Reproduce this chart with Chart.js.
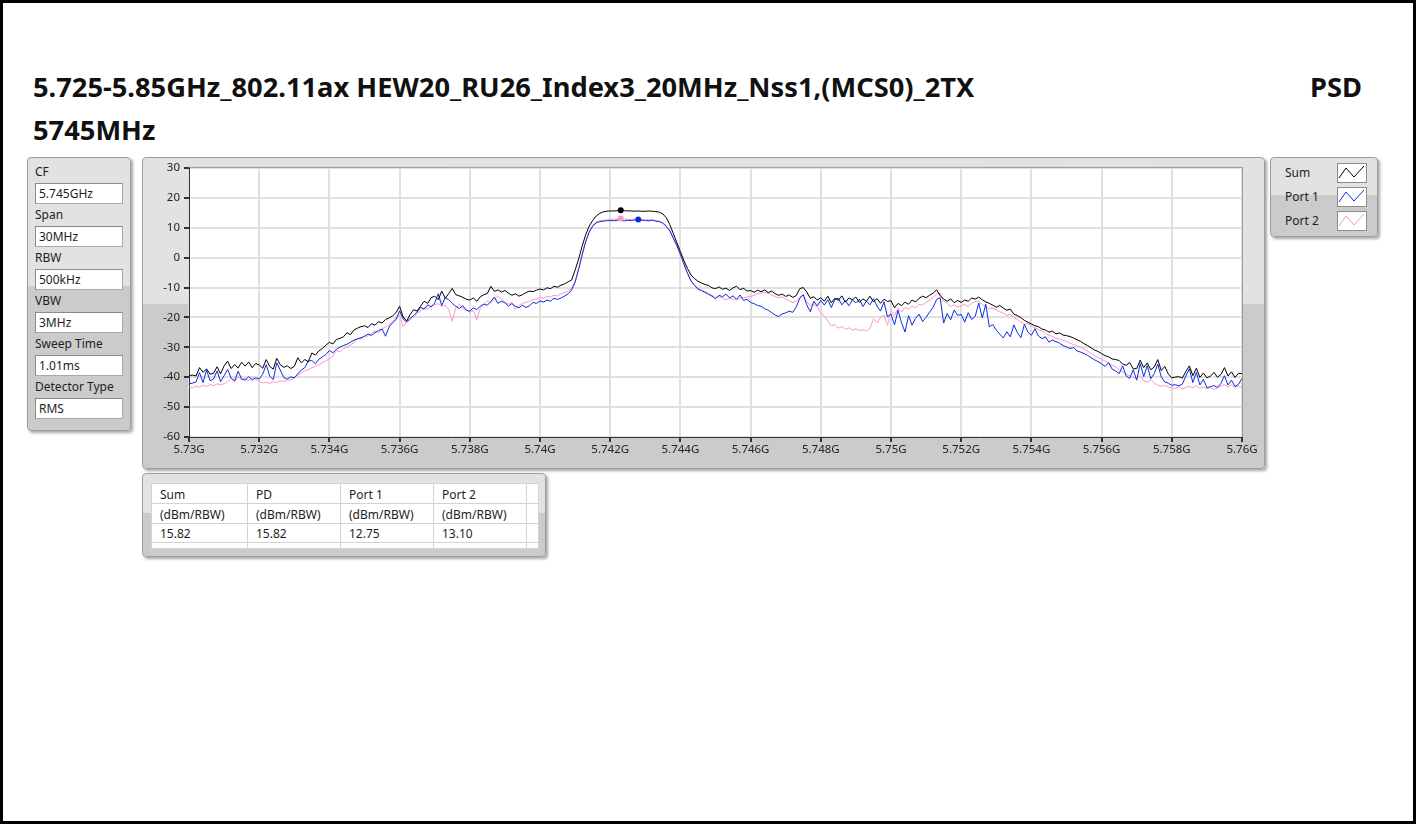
<!DOCTYPE html>
<html lang="en">
<head>
<meta charset="UTF-8">
<title>PSD 5745MHz</title>
<script src="https://cdn.jsdelivr.net/npm/chart.js"></script>
<style>
    html, body { margin: 0; padding: 0; background: #fff; }
    body {
        width: 1416px; height: 824px; position: relative; overflow: hidden;
        font-family: "Noto Sans", "DejaVu Sans", sans-serif; color: #1a1a1a;
    }
    .frame {
        position: absolute; left: 0; top: 0; width: 1416px; height: 824px;
        box-sizing: border-box; border: 3px solid #000;
    }
    .title {
        position: absolute; font-weight: 700; font-size: 25px; line-height: 25px;
        white-space: nowrap; color: #111;
    }
    .panel {
        position: absolute; box-sizing: border-box;
        border: 1px solid #9d9d9d; border-radius: 4px;
        box-shadow: 2px 2px 3px rgba(0,0,0,0.35);
        background: linear-gradient(#e2e2e2 0, #e2e2e2 47%, #cbcbcb 47%, #cbcbcb 100%);
    }
    .lbl { position: absolute; font-size: 12px; line-height: 16px; white-space: nowrap; color: #1e1e1e; }
    .box {
        position: absolute; box-sizing: border-box; width: 88px; height: 21px;
        background: #fff; border: 1px solid #a9a9a9; border-top-color: #8a8a8a; border-left-color: #8a8a8a;
        font-size: 12px; line-height: 19px; padding-left: 3px; color: #1e1e1e;
    }
    .icon { position: absolute; width: 30px; height: 20px; }
    table.res {
        position: absolute; left: 8px; top: 9px; border-collapse: collapse;
        background: #fff; font-size: 12px; color: #1e1e1e;
    }
    table.res td {
        border: 1px solid #d3d3d3; padding: 2px 0 0 8px; line-height: 16px;
        white-space: nowrap; box-sizing: border-box; vertical-align: middle;
    }
    #psd { position: absolute; left: 142px; top: 157px; }
</style>
</head>
<body>
<div class="frame"></div>
<div class="title" id="t1" style="left:33px; top:73px;">5.725-5.85GHz_802.11ax HEW20_RU26_Index3_20MHz_Nss1,(MCS0)_2TX</div>
<div class="title" id="t2" style="left:1310px; top:73px;">PSD</div>
<div class="title" id="t3" style="left:33px; top:116px;">5745MHz</div>

<div class="panel" id="params" style="left:27px; top:157px; width:104px; height:274px;"></div>
<div class="panel" style="left:142px; top:157px; width:1123px; height:312px;"></div>
<canvas id="psd" width="1122" height="311"></canvas>
<div class="panel" id="legend" style="left:1270px; top:157px; width:108px; height:80px;"></div>
<div class="panel" id="results" style="left:142px; top:473px; width:404px; height:84px;"></div>

<script>
// sweep grid: 5.730 GHz .. 5.760 GHz, 0.1 MHz per point
const startGHz = 5.730;
const stepGHz = 0.0001;

const xTickGHz = [5.730, 5.732, 5.734, 5.736, 5.738, 5.740, 5.742, 5.744,
                  5.746, 5.748, 5.750, 5.752, 5.754, 5.756, 5.758, 5.760];
const yTickDbm = [-60, -50, -40, -30, -20, -10, 0, 10, 20, 30];

// Sum trace (dBm/RBW)
const sumDbm = [
    -39.5, -39.3, -39.6, -36.8, -38.4, -37.2, -39.0, -38.7, -36.5, -38.9,
    -36.2, -34.6, -37.1, -35.8, -36.9, -35.0, -36.3, -34.9, -36.8, -35.4,
    -35.9, -37.0, -34.1, -36.4, -37.3, -33.7, -35.8, -36.7, -36.2, -37.1,
    -36.4, -33.5, -35.2, -34.1, -34.8, -31.9, -32.6, -31.2, -30.4, -29.3,
    -28.3, -28.9, -27.4, -27.0, -26.5, -25.1, -25.8, -24.2, -23.6, -23.1,
    -22.8, -23.4, -22.1, -22.6, -21.4, -21.9, -20.7, -20.2, -19.5, -18.4,
    -16.3, -19.8, -21.2, -19.0, -17.4, -17.9, -16.2, -14.6, -15.3, -13.4,
    -12.9, -14.1, -11.2, -13.6, -12.0, -10.3, -12.4, -12.8, -13.3, -13.9,
    -14.2, -13.5, -14.6, -13.1, -12.4, -12.0, -9.6, -11.3, -10.8, -11.5,
    -11.0, -11.9, -12.6, -12.1, -12.9, -12.4, -11.7, -11.2, -11.4, -10.9,
    -10.5, -10.8, -10.1, -10.4, -9.6, -9.9, -9.2, -8.8, -8.1, -7.5,
    -4.2, -0.5, 3.8, 7.6, 10.5, 12.4, 13.9, 14.8, 15.3, 15.5,
    15.6, 15.6, 15.7, 15.82, 15.7, 15.6, 15.6, 15.5, 15.6, 15.5,
    15.5, 15.6, 15.5, 15.4, 15.2, 14.6, 13.3, 11.0, 8.0, 5.0,
    2.0, -1.0, -3.6, -5.8, -7.0, -7.9, -8.5, -9.0, -9.3, -10.1,
    -10.4, -9.8, -10.6, -10.2, -11.0, -10.1, -9.6, -10.7, -10.3, -11.2,
    -11.0, -11.6, -10.9, -11.4, -10.8, -11.7, -11.2, -12.1, -12.6, -12.2,
    -13.0, -12.5, -13.3, -12.7, -10.4, -10.0, -11.5, -13.6, -13.1, -14.2,
    -13.4, -14.6, -12.9, -15.1, -13.6, -14.3, -12.8, -14.9, -13.5, -14.1,
    -13.2, -15.0, -13.8, -14.6, -12.9, -14.8, -13.7, -15.3, -13.9, -14.7,
    -14.4, -16.8, -15.3, -16.1, -14.9, -15.6, -14.2, -14.8, -13.6, -12.9,
    -13.4, -12.6, -11.9, -10.8, -12.7, -13.9, -14.6, -13.8, -15.1, -14.3,
    -15.0, -14.2, -14.6, -13.5, -13.9, -13.2, -14.1, -14.8, -15.3, -15.9,
    -16.6, -16.0, -16.9, -17.6, -17.2, -18.9, -19.4, -20.1, -21.0, -21.6,
    -22.2, -22.8, -23.1, -23.9, -24.2, -24.9, -24.6, -25.5, -25.2, -25.9,
    -26.1, -26.4, -26.9, -27.5, -28.0, -28.8, -29.4, -30.2, -30.9, -31.4,
    -32.1, -32.8, -33.2, -33.9, -34.1, -34.4, -35.6, -36.0, -35.1, -37.2,
    -37.1, -34.3, -36.8, -35.2, -37.5, -36.6, -34.1, -37.8, -36.4, -38.9,
    -40.2, -40.0, -39.8, -40.3, -38.1, -36.2, -39.5, -37.0, -40.1, -38.6,
    -40.2, -39.7, -38.4, -40.0, -39.1, -36.8, -39.6, -38.2, -40.1, -38.7,
    -38.8
];

// Port 1 trace
const port1Dbm = [
    -42.2, -42.0, -41.6, -38.5, -41.8, -37.6, -41.2, -40.6, -37.9, -41.5,
    -39.5, -37.4, -40.3, -41.2, -38.0, -40.6, -41.0, -39.8, -40.9, -40.2,
    -40.6, -39.0, -35.8, -39.7, -40.8, -35.2, -37.6, -40.1, -40.6, -39.9,
    -40.2, -38.9, -37.6, -36.8, -34.6, -34.4, -35.5, -34.0, -33.2, -32.4,
    -31.1, -31.8, -30.7, -29.9, -29.4, -29.0, -28.3, -27.6, -27.2, -26.8,
    -26.4, -25.6, -26.0, -25.1, -24.4, -23.9, -26.3, -23.2, -21.8, -20.7,
    -17.8, -20.5, -21.6, -20.3, -19.4, -18.2, -16.6, -17.3, -15.8, -16.5,
    -15.2, -12.1, -16.0, -13.4, -14.1, -15.3, -16.3, -17.0, -16.1, -17.6,
    -17.9, -16.8, -17.4, -16.2, -15.6, -15.9, -14.7, -13.2, -15.3, -14.6,
    -15.1, -16.2, -15.4, -16.3, -16.8, -15.9, -16.7, -16.1, -15.0, -15.3,
    -14.5, -14.9, -14.2, -14.6, -13.6, -14.0, -13.5, -12.9, -12.1, -10.9,
    -8.2, -4.0, 0.8, 5.2, 8.4, 10.5, 11.6, 12.0, 12.2, 12.3,
    12.4, 12.3, 12.5, 12.4, 12.3, 12.5, 12.4, 12.6, 12.75, 12.5,
    12.4, 12.3, 12.5, 12.2, 12.0, 11.5, 10.4, 8.9, 6.4, 3.9,
    1.0, -2.2, -5.2, -7.8, -9.3, -10.5, -11.1, -11.6, -12.3, -12.9,
    -13.8, -12.6, -13.1, -12.2, -13.5, -12.8, -13.9, -12.5, -14.3, -14.0,
    -15.0, -15.4, -16.0, -16.3, -17.1, -17.6, -18.4, -19.2, -19.7, -18.8,
    -18.5, -17.9, -18.3, -16.5, -13.6, -12.4, -15.8, -18.1, -14.6, -16.2,
    -14.3, -15.9, -14.1, -16.7, -14.0, -13.6, -15.8, -14.4, -16.1, -14.2,
    -15.1, -13.9, -16.4, -14.6, -15.8, -13.7, -16.2, -17.9, -14.8, -19.8,
    -18.9, -22.5, -17.6, -21.8, -24.9, -19.4, -22.6, -20.3, -18.9, -21.4,
    -20.0, -18.2, -16.6, -14.0, -13.4, -21.9, -18.7, -20.8, -17.5, -19.3,
    -19.0, -21.6, -18.4, -20.7, -19.6, -15.2, -20.2, -15.6, -23.1, -22.4,
    -24.3, -25.6, -26.9, -24.8, -26.5, -22.5, -25.1, -26.8, -22.3, -24.9,
    -26.0, -23.8, -26.2, -27.1, -26.5, -28.3, -27.6, -28.1, -28.6, -29.4,
    -29.9, -30.4, -30.1, -31.2, -31.6, -32.1, -32.7, -33.5, -34.2, -34.8,
    -35.5, -36.4, -35.1, -37.3, -37.9, -38.8, -36.2, -39.6, -40.4, -37.5,
    -41.0, -35.4, -39.8, -36.1, -40.5, -38.8, -35.6, -39.9, -41.6, -42.0,
    -42.7, -42.5, -42.9, -42.3, -39.6, -37.2, -41.8, -38.4, -42.6, -40.7,
    -43.5, -43.2, -42.8, -43.4, -42.1, -39.5, -42.6, -41.0, -43.1, -42.4,
    -40.4
];

// Port 2 trace
const port2Dbm = [
    -43.3, -43.6, -42.9, -43.4, -42.7, -43.1, -42.5, -42.8, -42.2, -42.6,
    -42.2, -41.5, -40.3, -41.6, -39.8, -40.9, -40.4, -41.2, -40.0, -40.7,
    -41.4, -41.9, -41.7, -42.1, -41.5, -41.8, -41.2, -41.4, -40.9, -41.0,
    -40.2, -39.4, -38.6, -37.9, -37.5, -36.8, -36.4, -35.8, -35.1, -34.5,
    -33.9, -33.0, -31.1, -31.6, -30.5, -30.0, -29.2, -28.4, -26.9, -27.3,
    -25.8, -26.4, -25.2, -24.6, -25.0, -23.9, -23.2, -22.5, -21.4, -20.1,
    -19.2, -23.1, -21.6, -20.8, -19.8, -18.7, -17.9, -16.6, -17.2, -16.1,
    -15.8, -15.4, -16.3, -15.9, -17.4, -21.3, -16.8, -15.6, -16.9, -17.5,
    -18.3, -17.7, -20.8, -16.9, -15.6, -14.4, -15.1, -13.9, -12.8, -13.7,
    -15.0, -15.6, -14.9, -17.2, -16.0, -15.3, -15.0, -14.6, -14.1, -13.9,
    -13.3, -13.6, -12.9, -13.2, -12.6, -12.8, -12.1, -11.7, -11.2, -10.3,
    -8.0, -3.6, 1.2, 5.6, 8.8, 10.8, 11.9, 12.3, 12.5, 12.6,
    12.7, 12.8, 12.9, 13.10, 12.9, 12.8, 12.7, 12.8, 12.6, 12.7,
    12.6, 12.7, 12.6, 12.4, 12.2, 11.7, 10.7, 9.2, 6.8, 4.4,
    1.4, -1.8, -5.0, -7.6, -9.1, -10.2, -10.8, -11.3, -11.9, -12.6,
    -13.3, -13.0, -13.6, -14.1, -13.7, -13.9, -14.2, -13.5, -13.4, -13.2,
    -13.0, -12.6, -12.1, -11.8, -11.6, -11.9, -12.5, -13.0, -13.4, -13.2,
    -13.8, -14.4, -15.0, -14.6, -13.2, -12.4, -14.8, -16.0, -15.7, -16.5,
    -18.3, -19.6, -21.2, -22.8, -22.4, -23.6, -23.1, -24.0, -23.5, -24.2,
    -23.8, -24.4, -24.1, -24.6, -23.7, -20.5, -21.8, -20.0, -19.2, -22.6,
    -17.8, -19.4, -16.9, -18.2, -16.7, -17.3, -16.2, -16.8, -15.6, -15.9,
    -15.0, -14.2, -13.4, -12.2, -11.8, -14.6, -15.3, -16.4, -15.8, -16.6,
    -16.1, -15.6, -16.4, -15.2, -14.7, -14.5, -15.8, -16.3, -17.2, -16.9,
    -17.5, -18.1, -18.6, -19.4, -19.0, -20.0, -20.7, -21.5, -22.3, -22.0,
    -22.8, -23.5, -24.1, -24.6, -25.3, -26.0, -26.4, -27.0, -27.2, -27.7,
    -28.0, -28.6, -29.1, -29.5, -30.0, -30.5, -31.3, -32.0, -32.8, -33.4,
    -34.0, -34.6, -35.3, -36.0, -36.5, -37.5, -38.2, -38.9, -39.5, -40.1,
    -40.5, -39.4, -41.2, -41.6, -40.8, -42.0, -42.6, -43.0, -42.8, -43.3,
    -43.5, -43.8, -43.2, -44.0, -43.4, -43.0, -43.6, -42.9, -43.7, -43.3,
    -43.8, -43.5, -44.1, -43.6, -42.9, -42.5, -43.2, -42.6, -43.4, -43.0,
    -43.5
];

// peak markers: Sum, Port 2, Port 1
const peakGHz = [5.7423, 5.7423, 5.7428];
const peakDbm = [15.82, 13.10, 12.75];

// side panels
const paramLabels = ['CF', 'Span', 'RBW', 'VBW', 'Sweep Time', 'Detector Type'];
const paramValues = ['5.745GHz', '30MHz', '500kHz', '3MHz', '1.01ms', 'RMS'];
const legendNames = ['Sum', 'Port 1', 'Port 2'];
const traceColors = ['#000000', '#0b2de0', '#ff94c9'];
const tableHeads = ['Sum', 'PD', 'Port 1', 'Port 2'];
const tableUnits = ['(dBm/RBW)', '(dBm/RBW)', '(dBm/RBW)', '(dBm/RBW)'];
const tableValues = ['15.82', '15.82', '12.75', '13.10'];

// --- parameter panel
const params = document.getElementById('params');
paramLabels.forEach((name, k) => {
    const l = document.createElement('div');
    l.className = 'lbl';
    l.style.left = '7px';
    l.style.top = (6 + 43 * k) + 'px';
    l.textContent = name;
    params.appendChild(l);
    const b = document.createElement('div');
    b.className = 'box';
    b.style.left = '7px';
    b.style.top = (25 + 43 * k) + 'px';
    b.textContent = paramValues[k];
    params.appendChild(b);
});

// --- legend panel
const legend = document.getElementById('legend');
legendNames.forEach((name, k) => {
    const l = document.createElement('div');
    l.className = 'lbl';
    l.style.left = '14px';
    l.style.top = (7 + 24 * k) + 'px';
    l.textContent = name;
    legend.appendChild(l);
    const ic = document.createElementNS('http://www.w3.org/2000/svg', 'svg');
    ic.setAttribute('class', 'icon');
    ic.setAttribute('viewBox', '0 0 30 20');
    ic.style.left = '66px';
    ic.style.top = (5 + 24 * k) + 'px';
    ic.innerHTML = '<rect x="0.5" y="0.5" width="29" height="19" fill="#fff" stroke="#8c8c8c"/>' +
        '<polyline points="2,15 9,5 17,14 27,3" fill="none" stroke="' + traceColors[k] + '" stroke-width="1"/>';
    legend.appendChild(ic);
});

// --- results table
const tbl = document.createElement('table');
tbl.className = 'res';
const colW = [96, 93, 93, 93, 12];
const rowH = [20, 20, 18, 6];
[tableHeads, tableUnits, tableValues, ['', '', '', '']].forEach((row, r) => {
    const tr = document.createElement('tr');
    row.concat(['']).forEach((txt, c) => {
        const td = document.createElement('td');
        td.style.width = colW[c] + 'px';
        td.style.height = rowH[r] + 'px';
        if (r === 3) td.style.padding = '0';
        td.textContent = txt;
        tr.appendChild(td);
    });
    tbl.appendChild(tr);
});
document.getElementById('results').appendChild(tbl);

// --- fit title text width to the reference
const t1 = document.getElementById('t1');
const fitSize = 25 * 942 / t1.getBoundingClientRect().width;
['t1', 't2', 't3'].forEach(id => {
    const el = document.getElementById(id);
    el.style.fontSize = fitSize + 'px';
    el.style.lineHeight = fitSize + 'px';
});

// --- chart
const toPoints = vals => vals.map((v, i) => ({ x: startGHz + i * stepGHz, y: v }));

const plotFrame = {
    id: 'plotFrame',
    beforeDraw(c) {
        const a = c.chartArea, g = c.ctx;
        g.save();
        g.fillStyle = '#ffffff';
        g.fillRect(a.left, a.top, a.right - a.left, a.bottom - a.top);
        g.restore();
    },
    afterDraw(c) {
        const a = c.chartArea, g = c.ctx;
        g.save();
        g.strokeStyle = '#9a9a9a';
        g.lineWidth = 1;
        g.beginPath();
        g.moveTo(a.left, a.top - 0.5);
        g.lineTo(a.right + 0.5, a.top - 0.5);
        g.lineTo(a.right + 0.5, a.bottom);
        g.stroke();
        g.restore();
    }
};

const tickFont = { family: 'Noto Sans', size: 11.5 };

new Chart(document.getElementById('psd'), {
    type: 'line',
    data: {
        datasets: [
            { label: 'Sum peak', data: [{ x: peakGHz[0], y: peakDbm[0] }], showLine: false,
              pointRadius: 3, pointBackgroundColor: traceColors[0], pointBorderWidth: 0 },
            { label: 'Port 2 peak', data: [{ x: peakGHz[1], y: peakDbm[1] }], showLine: false,
              pointRadius: 3, pointBackgroundColor: traceColors[2], pointBorderWidth: 0 },
            { label: 'Port 1 peak', data: [{ x: peakGHz[2], y: peakDbm[2] }], showLine: false,
              pointRadius: 3, pointBackgroundColor: traceColors[1], pointBorderWidth: 0 },
            { label: 'Sum', data: toPoints(sumDbm), borderColor: traceColors[0] },
            { label: 'Port 1', data: toPoints(port1Dbm), borderColor: traceColors[1] },
            { label: 'Port 2', data: toPoints(port2Dbm), borderColor: traceColors[2] }
        ]
    },
    options: {
        responsive: false,
        animation: false,
        devicePixelRatio: 1,
        layout: { padding: { left: 0, right: 22, top: 9, bottom: 0 } },
        plugins: { legend: { display: false }, tooltip: { enabled: false } },
        elements: {
            line: { borderWidth: 1, tension: 0 },
            point: { radius: 0 }
        },
        scales: {
            x: {
                type: 'linear', min: 5.73, max: 5.76,
                afterBuildTicks: s => { s.ticks = xTickGHz.map(v => ({ value: v })); },
                afterFit: s => { s.height = 31; },
                ticks: {
                    callback: v => (+v.toFixed(3)) + 'G',
                    color: '#222', font: tickFont, padding: 1,
                    maxRotation: 0, autoSkip: false
                },
                grid: { color: '#e0e0e0', lineWidth: 2, tickColor: '#333', tickLength: 5 },
                border: { color: '#333', width: 1 }
            },
            y: {
                min: -60, max: 30,
                afterBuildTicks: s => { s.ticks = yTickDbm.map(v => ({ value: v })); },
                afterFit: s => { s.width = 47; },
                ticks: { color: '#222', font: tickFont, padding: 4 },
                grid: { color: '#e0e0e0', lineWidth: 2, tickColor: '#333', tickLength: 5 },
                border: { color: '#333', width: 1 }
            }
        }
    },
    plugins: [plotFrame]
});
</script>
</body>
</html>
